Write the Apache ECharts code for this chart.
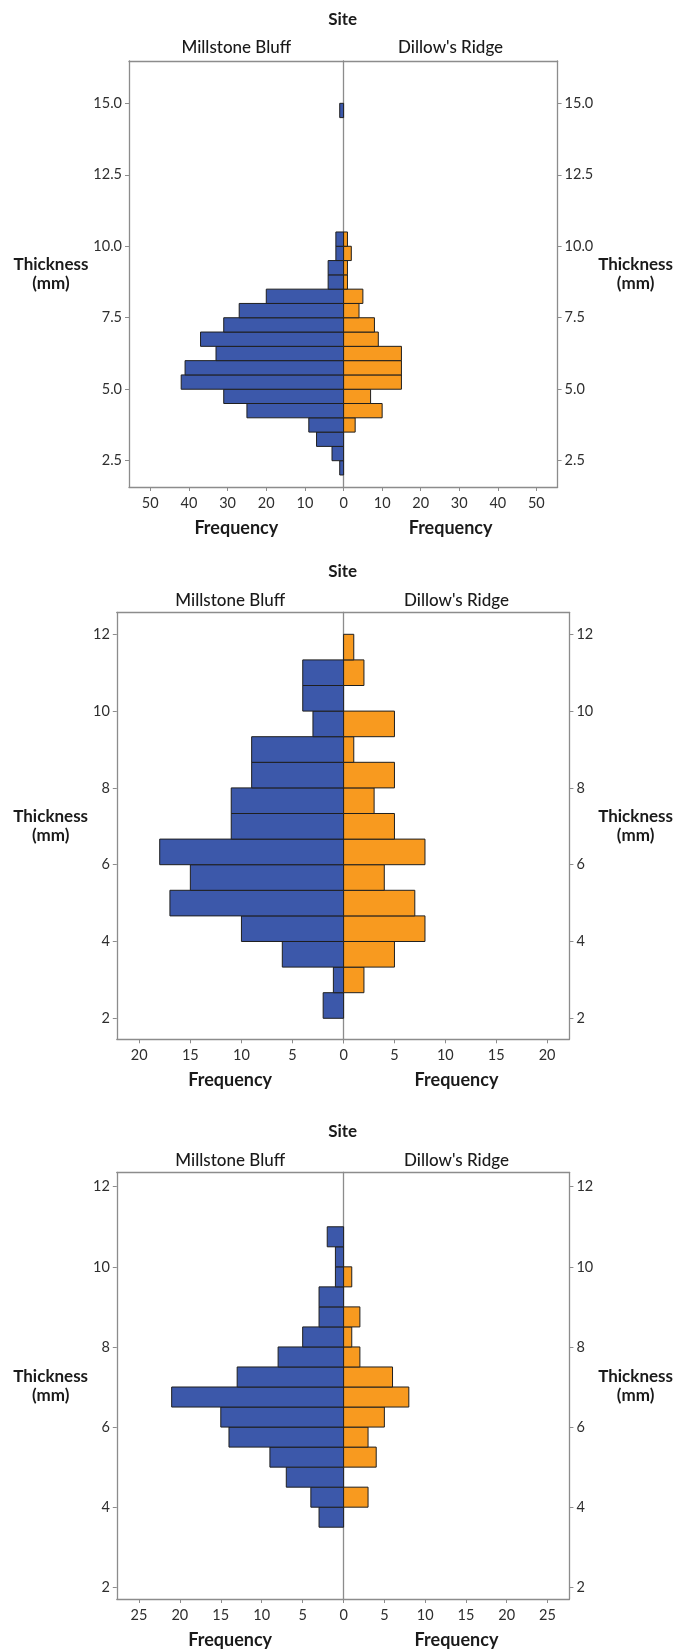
<!DOCTYPE html>
<html><head><meta charset="utf-8">
<script src="https://cdn.jsdelivr.net/npm/echarts@6/dist/echarts.min.js"></script>
<style>html,body{margin:0;padding:0;background:#fff}#c{width:675px;height:1650px}</style>
</head><body><div id="c"></div>
<script>
// ---------- DATA ----------
const siteTitle = "Site";
const siteNames = ["Millstone Bluff", "Dillow's Ridge"];
const yName = "Thickness\n(mm)";
const xName = "Frequency";

// Chart 1 : bins of 0.5 mm (lower edges)
const c1BinLow = [2.0,2.5,3.0,3.5,4.0,4.5,5.0,5.5,6.0,6.5,7.0,7.5,8.0,8.5,9.0,9.5,10.0,10.5,11.0,11.5,12.0,12.5,13.0,13.5,14.0,14.5];
const c1BinWidth = 0.5;
const c1Millstone = [1,3,7,9,25,31,42,41,33,37,31,27,20,4,4,2,2,0,0,0,0,0,0,0,0,1];
const c1Dillow    = [0,0,0,3,10,7,15,15,15,9,8,4,5,1,1,2,1,0,0,0,0,0,0,0,0,0];
const c1YTicks = [2.5,5.0,7.5,10.0,12.5,15.0];
const c1XTicks = [0,10,20,30,40,50];

// Chart 2 : bins of 2/3 mm (lower edges)
const c2BinLow = [2.0,2.6667,3.3333,4.0,4.6667,5.3333,6.0,6.6667,7.3333,8.0,8.6667,9.3333,10.0,10.6667,11.3333];
const c2BinWidth = 0.6667;
const c2Millstone = [2,1,6,10,17,15,18,11,11,9,9,3,4,4,0];
const c2Dillow    = [0,2,5,8,7,4,8,5,3,5,1,5,0,2,1];
const c2YTicks = [2,4,6,8,10,12];
const c2XTicks = [0,5,10,15,20];

// Chart 3 : bins of 0.5 mm (lower edges)
const c3BinLow = [3.5,4.0,4.5,5.0,5.5,6.0,6.5,7.0,7.5,8.0,8.5,9.0,9.5,10.0,10.5];
const c3BinWidth = 0.5;
const c3Millstone = [3,4,7,9,14,15,21,13,8,5,3,3,1,1,2];
const c3Dillow    = [0,3,0,4,3,5,8,6,2,1,2,0,1,0,0];
const c3YTicks = [2,4,6,8,10,12];
const c3XTicks = [0,5,10,15,20,25];

// ---------- STYLE / LAYOUT ----------
const FONT = 'Lato';
const BLUE = '#3c58aa', ORANGE = '#f89a1f', EDGE = '#1f1f1f', FRAME = '#8c8c8c';
const charts = [
  {low:c1BinLow, w:c1BinWidth, ms:c1Millstone, dr:c1Dillow, yt:c1YTicks, xt:c1XTicks, dec:1,
   left:129, mid:343.6, right:558, top:61, bottom:487, xMax:55.5, yMin:1.58, yMax:16.48, siteY:20, nameGapY:78, subGap:4.5},
  {low:c2BinLow, w:c2BinWidth, ms:c2Millstone, dr:c2Dillow, yt:c2YTicks, xt:c2XTicks, dec:0,
   left:116.8, mid:343.6, right:570.3, top:612.3, bottom:1039.3, xMax:22.2, yMin:1.453, yMax:12.573, siteY:572, nameGapY:66, subGap:3.5},
  {low:c3BinLow, w:c3BinWidth, ms:c3Millstone, dr:c3Dillow, yt:c3YTicks, xt:c3XTicks, dec:0,
   left:116.8, mid:343.6, right:570.3, top:1172.3, bottom:1599, xMax:27.7, yMin:1.708, yMax:12.36, siteY:1132, nameGapY:66, subGap:3.5}
];

const grid = [], xAxis = [], yAxis = [], series = [], graphic = [];
const lineS = {color: FRAME, width: 1.3};

function render(color) {
  return function (params, api) {
    const lo = api.value(0), hi = api.value(1), cnt = api.value(2);
    if (!cnt) return null;
    const a = api.coord([0, lo]), b = api.coord([cnt, hi]);
    return {type:'rect',
      shape:{x:Math.min(a[0],b[0]), y:Math.min(a[1],b[1]), width:Math.abs(b[0]-a[0]), height:Math.abs(b[1]-a[1])},
      style:{fill:color, stroke:EDGE, lineWidth:1}};
  };
}

charts.forEach((c, k) => {
  const gL = grid.length;
  grid.push({left:c.left, top:c.top, width:c.mid - c.left, height:c.bottom - c.top, containLabel:false});
  grid.push({left:c.mid, top:c.top, width:c.right - c.mid, height:c.bottom - c.top, containLabel:false});
  const fmtY = v => c.dec ? Number(v).toFixed(1) : String(v);
  const baseX = (gi, inverse, labelVals, name) => ({
    type:'value', gridIndex:gi, min:0, max:c.xMax, inverse:inverse, position:'bottom',
    axisLine:{show:true, onZero:false, lineStyle:lineS},
    axisTick:{show:true, length:4, lineStyle:{color:FRAME}, customValues:c.xt},
    axisLabel:{show:true, margin:9, fontFamily:FONT, fontSize:14.5, color:'#2e2e2e', customValues:labelVals},
    splitLine:{show:false},
    name:name, nameLocation:'middle', nameGap:32,
    nameTextStyle:{fontFamily:FONT, fontSize:18, fontWeight:'bold', color:'#1a1a1a'}
  });
  const topX = (gi, name) => ({
    type:'value', gridIndex:gi, min:0, max:c.xMax, position:'top',
    axisLine:{show:true, onZero:false, lineStyle:lineS},
    axisTick:{show:false}, axisLabel:{show:false}, splitLine:{show:false},
    name:name, nameLocation:'middle', nameGap:c.subGap,
    nameTextStyle:{fontFamily:FONT, fontSize:17, fontWeight:500, color:'#1a1a1a', verticalAlign:'bottom'}
  });
  const xi = xAxis.length;
  xAxis.push(baseX(gL, true, c.xt, xName));
  xAxis.push(baseX(gL + 1, false, c.xt.filter(v => v !== 0), xName));
  xAxis.push(topX(gL, siteNames[0]));
  xAxis.push(topX(gL + 1, siteNames[1]));
  const labY = (gi, pos) => ({
    type:'value', gridIndex:gi, min:c.yMin, max:c.yMax, position:pos,
    axisLine:{show:true, onZero:false, lineStyle:lineS},
    axisTick:{show:true, length:4, lineStyle:{color:FRAME}, customValues:c.yt},
    axisLabel:{show:true, margin:7, fontFamily:FONT, fontSize:14.5, color:'#2e2e2e', customValues:c.yt, formatter:fmtY},
    splitLine:{show:false},
    name:yName, nameLocation:'middle', nameRotate:0, nameGap:c.nameGapY,
    nameTextStyle:{fontFamily:FONT, fontSize:17, fontWeight:'bold', color:'#1a1a1a', align:'center', verticalAlign:'middle', lineHeight:19}
  });
  const yi = yAxis.length;
  yAxis.push(labY(gL, 'left'));
  yAxis.push(labY(gL + 1, 'right'));
  yAxis.push({type:'value', gridIndex:gL + 1, min:c.yMin, max:c.yMax, position:'left',
    axisLine:{show:true, onZero:false, lineStyle:lineS}, axisTick:{show:false}, axisLabel:{show:false}, splitLine:{show:false}});
  series.push({type:'custom', xAxisIndex:xi, yAxisIndex:yi, renderItem:render(BLUE), z:3,
    data:c.low.map((l, i) => [l, l + c.w, c.ms[i]])});
  series.push({type:'custom', xAxisIndex:xi + 1, yAxisIndex:yi + 1, renderItem:render(ORANGE), z:3,
    data:c.low.map((l, i) => [l, l + c.w, c.dr[i]])});
  graphic.push({type:'text', x:c.mid - 1, y:c.siteY, style:{text:siteTitle, fontFamily:FONT, fontSize:17, fontWeight:'bold', fill:'#1a1a1a', textAlign:'center', textVerticalAlign:'middle'}});
});

const chart = echarts.init(document.getElementById('c'), null, {renderer:'canvas'});
chart.setOption({animation:false, backgroundColor:'#fff', grid, xAxis, yAxis, series, graphic});
</script>
</body></html>
